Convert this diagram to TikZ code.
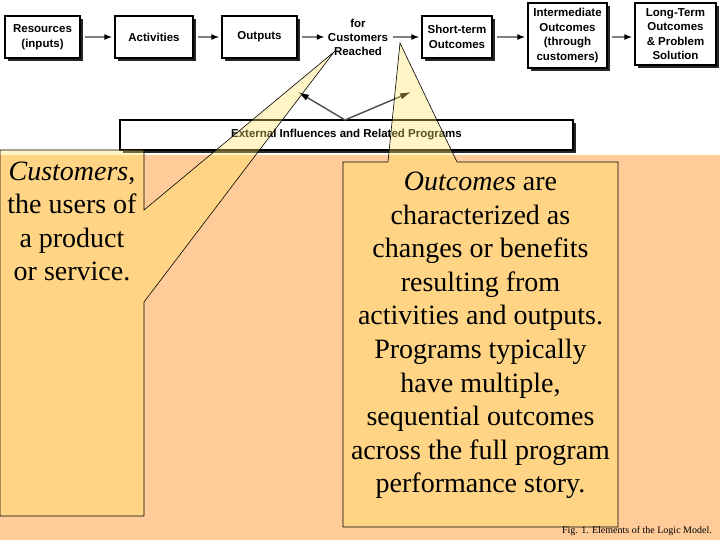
\documentclass[tikz,border=0pt]{standalone}
\usepackage{fontspec}
\setmainfont{Liberation Serif}
\setsansfont{Liberation Sans}
\usepackage{tikz}
\usetikzlibrary{arrows.meta,shadows}
\definecolor{peach}{HTML}{FFCC99}
\definecolor{notefill}{HTML}{FFE664}

\begin{document}
\begin{tikzpicture}[x=1pt,y=-1pt,
  lmbox/.style n args={2}{draw=black,line width=1.1pt,fill=white,minimum width=#1pt,minimum height=#2pt,inner sep=1pt,align=center,font=\sffamily\bfseries\fontsize{11.5}{14.5}\selectfont,drop shadow={shadow xshift=3pt,shadow yshift=-3pt,fill=black!85,opacity=1}},
  lmtext/.style={align=center,inner sep=1pt,font=\sffamily\bfseries\fontsize{11.5}{14}\selectfont},
  flow/.style={draw=black!50,line width=2pt,shorten <=4pt,shorten >=2pt,-{Latex[length=8pt,width=6pt,color=black]}},
  infl/.style={draw=black!70,line width=1.4pt,-{Latex[length=11pt,width=6.5pt,color=black]}},
  note/.style={draw=black,line width=0.6pt,fill=notefill,fill opacity=0.36,line join=miter},
  notetext/.style={align=center,inner sep=0pt,font=\fontsize{28}{33.6}\selectfont}]
\useasboundingbox (0,0) rectangle (720,540);
\fill[white] (0,0) rectangle (720,155);
\fill[peach] (0,155) rectangle (720,540);
% logic model chain
\node[lmbox={75}{42}] (res) at (42.5,37) {Resources\\(inputs)};
\node[lmbox={78}{42}] (act) at (154,37) {Activities};
\node[lmbox={75}{42}] (out) at (259.5,37) {Outputs};
\node[lmtext] (cust) at (358,37) {for\\Customers\\Reached};
\node[lmbox={70}{42}] (st) at (457,37) {Short-term\\Outcomes};
\node[lmbox={79}{65}] (im) at (567.5,35.5) {Intermediate\\Outcomes\\(through\\customers)};
\node[lmbox={81}{62}] (lt) at (675.5,34) {Long-Term\\Outcomes\\\& Problem\\Solution};
\foreach \a/\b in {res/act,act/out,out/cust,cust/st,st/im,im/lt} {
  \draw[flow] (\a.east |- 0,37) -- (\b.west |- 0,37);
}
% external influences
\node[lmbox={453}{30}] (ext) at (346.5,135) {External Influences and Related Programs};
\coordinate (fork) at (345,120);
\coordinate (inl) at (298,92);
\coordinate (inr) at (411,92);
\draw[infl] (fork) -- (inl);
\draw[infl] (fork) -- (inr);
% callouts
\filldraw[note] (0,150) -- (144,150) -- (144,210) -- (334,52) -- (144,302) -- (144,516) -- (0,516) -- cycle;
\filldraw[note] (343,162) -- (388,162) -- (400,43) -- (457,162) -- (618,162) -- (618,527) -- (343,527) -- cycle;
\node[notetext] (custnote) at (72,221.5) {\textit{Customers},\\the users of\\a product\\or service.};
\node[notetext] (outnote) at (480.5,335.5) {\textit{Outcomes} are\\characterized as\\changes or benefits\\resulting from\\activities and outputs.\\Programs typically\\have multiple,\\sequential outcomes\\across the full program\\performance story.};
\node[anchor=east,inner sep=0pt,font=\fontsize{10}{12}\selectfont] (fig) at (712,531) {Fig. 1. Elements of the Logic Model.};
\end{tikzpicture}
\end{document}
